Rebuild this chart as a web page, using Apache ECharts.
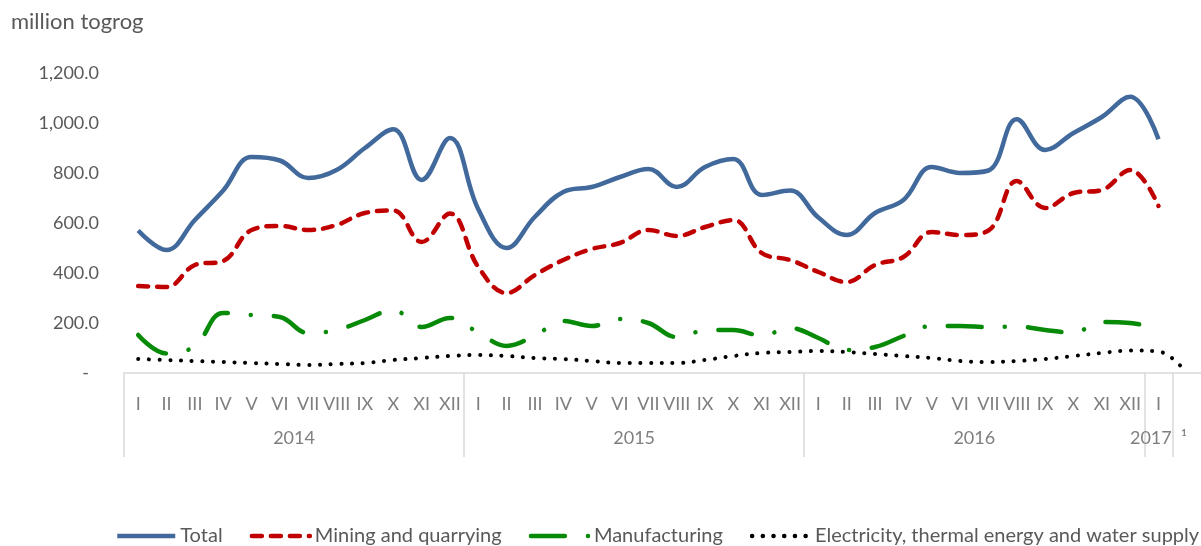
<!DOCTYPE html>
<html>
<head>
<meta charset="utf-8">
<script src="https://cdn.jsdelivr.net/npm/echarts@6/dist/echarts.min.js"></script>
<style>
  html, body { margin: 0; padding: 0; background: #fff; }
  #chart { width: 1201px; height: 546px; }
</style>
</head>
<body>
<div id="chart"></div>
<script>
// month labels, last slot has no label (Excel leaves an empty category at the end)
const months = ['I', 'II', 'III', 'IV', 'V', 'VI', 'VII', 'VIII', 'IX', 'X', 'XI', 'XII']
const categories = months.concat(months, months, ['I', ''])
const yearLabels = ['2014', '2015', '2016', '2017  ¹']
const yearCenters = [6, 18, 30, 36.5]
const yearBounds = [0, 12, 24, 36, 37]

// million togrog
const total = [570, 492, 612, 730, 864, 850, 780, 812, 900, 975, 772, 940,
  655, 500, 625, 724, 744, 784, 816, 744, 824, 856, 712, 730,
  622, 552, 640, 692, 824, 800, 810, 1015, 892, 960, 1024, 1105, 935]
const mining = [348, 344, 432, 448, 572, 588, 572, 592, 640, 650, 524, 638,
  424, 320, 392, 452, 496, 520, 572, 548, 584, 612, 480, 452,
  404, 364, 432, 464, 564, 552, 570, 768, 660, 720, 732, 812, 668]
const manufacturing = [152, 78, 108, 240, 232, 224, 160, 172, 212, 252, 184, 220,
  162, 108, 150, 208, 188, 216, 200, 144, 170, 172, 150, 180,
  140, 92, 104, 148, 188, 188, 184, 186, 172, 162, 204, 200, 178]
const electricity = [56, 52, 48, 44, 40, 36, 32, 36, 40, 52, 60, 68,
  72, 68, 60, 56, 48, 40, 40, 40, 52, 68, 80, 84,
  88, 84, 76, 68, 60, 48, 44, 48, 56, 68, 80, 90, 86, 0]

const chart = echarts.init(document.getElementById('chart'))
const grey = '#595959'
const axisGrey = '#d9d9d9'
const font = 'Lato'

chart.setOption({
  animation: false,
  title: {
    text: 'million togrog',
    left: 6,
    top: 6,
    textStyle: { fontFamily: font, fontSize: 22, fontWeight: 'normal', color: grey }
  },
  legend: {
    top: 526,
    left: 115,
    width: 1090,
    padding: 0,
    itemWidth: 58,
    itemHeight: 14,
    itemGap: 27,
    itemStyle: { opacity: 0 },
    lineStyle: { width: 4.5 },
    textStyle: { fontFamily: font, fontSize: 20, color: grey },
    data: ['Total', 'Mining and quarrying', 'Manufacturing', 'Electricity, thermal energy and water supply']
  },
  grid: { left: 124, top: 73, width: 1079, height: 300 },
  xAxis: [
    {
      type: 'category',
      data: categories,
      boundaryGap: true,
      axisLine: { lineStyle: { color: axisGrey, width: 1.5 } },
      axisTick: { show: false },
      axisLabel: { interval: 0, margin: 22, fontFamily: font, fontSize: 18, color: '#7f7f7f' }
    },
    {
      type: 'value',
      position: 'bottom',
      min: 0,
      max: 38,
      splitLine: { show: false },
      axisLine: { show: false },
      axisTick: {
        show: true,
        customValues: yearBounds,
        length: 84,
        lineStyle: { color: axisGrey, width: 1.5 }
      },
      axisLabel: {
        customValues: yearCenters,
        margin: 56,
        fontFamily: font,
        fontSize: 18,
        color: '#7f7f7f',
        formatter: function (v) {
          return yearLabels[yearCenters.indexOf(v)] || ''
        }
      }
    }
  ],
  yAxis: {
    type: 'value',
    min: 0,
    max: 1200,
    interval: 200,
    splitLine: { show: false },
    axisLine: { show: false },
    axisTick: { show: false },
    axisLabel: {
      margin: 25,
      fontFamily: font,
      fontSize: 18,
      color: grey,
      formatter: function (v) {
        if (v === 0) return '{d|-}'
        return v.toLocaleString('en-US', { minimumFractionDigits: 1, maximumFractionDigits: 1 })
      },
      rich: { d: { fontFamily: font, fontSize: 18, color: grey, padding: [0, 10, 0, 0] } }
    }
  },
  series: [
    {
      name: 'Total',
      type: 'line',
      data: total,
      smooth: 0.4,
      symbol: 'none',
      lineStyle: { color: '#41699c', width: 4.5 },
      itemStyle: { color: '#41699c' }
    },
    {
      name: 'Mining and quarrying',
      type: 'line',
      data: mining,
      smooth: 0.4,
      symbol: 'none',
      lineStyle: { color: '#c00000', width: 4.5, type: [10, 9], cap: 'round' },
      itemStyle: { color: '#c00000' }
    },
    {
      name: 'Manufacturing',
      type: 'line',
      data: manufacturing,
      smooth: 0.4,
      symbol: 'none',
      lineStyle: { color: '#078a07', width: 4.5, type: [34, 23, 0.1, 23], cap: 'round' },
      itemStyle: { color: '#078a07' }
    },
    {
      name: 'Electricity, thermal energy and water supply',
      type: 'line',
      data: electricity,
      smooth: 0.4,
      symbol: 'none',
      lineStyle: { color: '#000', width: 4, type: [0.1, 10.6], cap: 'round' },
      itemStyle: { color: '#000' }
    }
  ]
})
</script>
</body>
</html>
